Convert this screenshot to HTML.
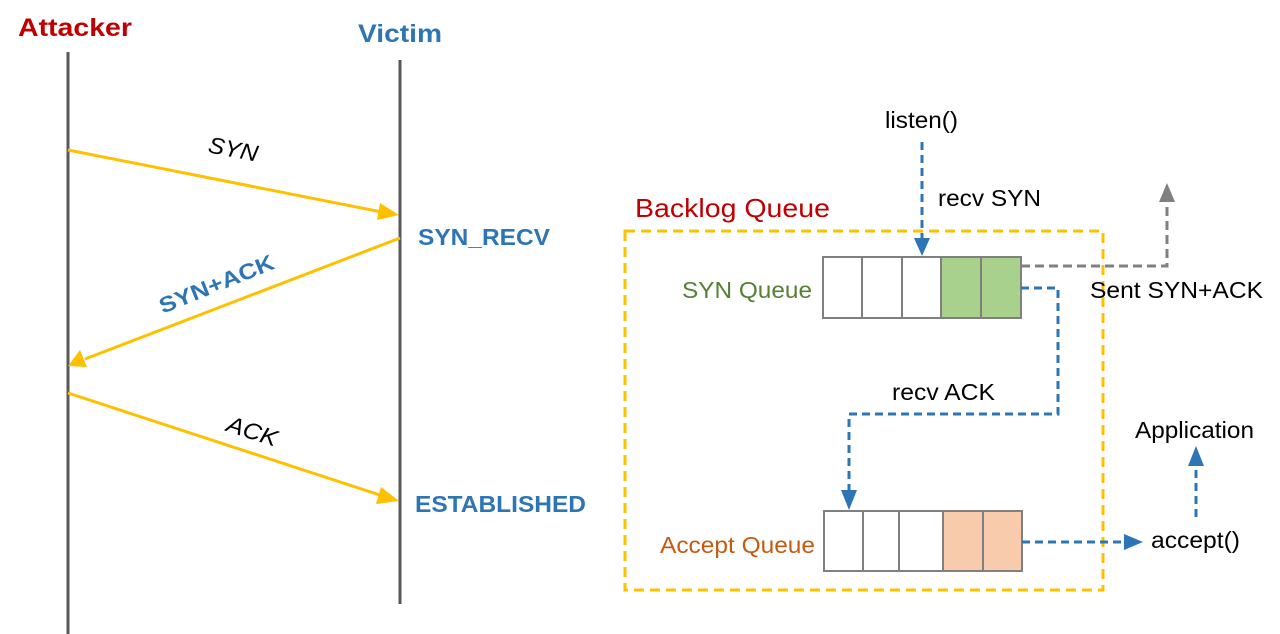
<!DOCTYPE html>
<html><head><meta charset="utf-8"><style>html,body{margin:0;padding:0;background:#fff}svg{display:block}text{font-family:"Liberation Sans",Arial,sans-serif}</style></head>
<body>
<svg width="1280" height="634" viewBox="0 0 1280 634" xmlns="http://www.w3.org/2000/svg">
<text x="18" y="36" font-size="25" font-weight="bold" fill="#C00000" textLength="114" lengthAdjust="spacingAndGlyphs">Attacker</text>
<text x="358" y="42" font-size="25" font-weight="bold" fill="#2E75B6" textLength="84" lengthAdjust="spacingAndGlyphs">Victim</text>
<line x1="68" y1="52" x2="68" y2="634" stroke="#595959" stroke-width="3"/>
<line x1="400" y1="60" x2="400" y2="604" stroke="#595959" stroke-width="3"/>
<line x1="68" y1="150" x2="382" y2="212" stroke="#FFC000" stroke-width="3"/>
<path d="M399,215 L380,203 L377,220 z" fill="#FFC000"/>
<text x="208" y="157" font-size="23" font-style="italic" transform="rotate(11 233 150)" textLength="50" lengthAdjust="spacingAndGlyphs">SYN</text>
<line x1="400" y1="238" x2="85" y2="359" stroke="#FFC000" stroke-width="3"/>
<path d="M68,366 L80,350 L87,367 z" fill="#FFC000"/>
<text x="155" y="292" font-size="22" font-weight="bold" fill="#2E75B6" transform="rotate(-22 215 283)" textLength="122" lengthAdjust="spacingAndGlyphs">SYN+ACK</text>
<text x="418" y="245" font-size="23" font-weight="bold" fill="#2E75B6" textLength="132" lengthAdjust="spacingAndGlyphs">SYN_RECV</text>
<line x1="68" y1="393" x2="383" y2="496" stroke="#FFC000" stroke-width="3"/>
<path d="M399,501 L381,487 L376,504 z" fill="#FFC000"/>
<text x="226" y="439" font-size="23" font-style="italic" transform="rotate(18 252 432)" textLength="52" lengthAdjust="spacingAndGlyphs">ACK</text>
<text x="415" y="512" font-size="23" font-weight="bold" fill="#2E75B6" textLength="171" lengthAdjust="spacingAndGlyphs">ESTABLISHED</text>

<text x="635" y="217" font-size="26" fill="#C00000" textLength="195" lengthAdjust="spacingAndGlyphs">Backlog Queue</text>
<rect x="625" y="231" width="478" height="359" fill="none" stroke="#FFC000" stroke-width="3" stroke-dasharray="10,6"/>
<text x="682" y="298" font-size="23" fill="#548235" textLength="130" lengthAdjust="spacingAndGlyphs">SYN Queue</text>
<text x="660" y="553" font-size="23" fill="#C55A11" textLength="155" lengthAdjust="spacingAndGlyphs">Accept Queue</text>
<rect x="941" y="257" width="80" height="61" fill="#A9D18E"/>
<rect x="823" y="257" width="198" height="61" fill="none" stroke="#808080" stroke-width="2"/>
<g stroke="#808080" stroke-width="2"><line x1="862" y1="257" x2="862" y2="318"/><line x1="902" y1="257" x2="902" y2="318"/><line x1="941" y1="257" x2="941" y2="318"/><line x1="981" y1="257" x2="981" y2="318"/></g>
<rect x="943" y="511" width="79" height="60" fill="#F8CBAD"/>
<rect x="824" y="511" width="198" height="60" fill="none" stroke="#808080" stroke-width="2"/>
<g stroke="#808080" stroke-width="2"><line x1="863" y1="511" x2="863" y2="571"/><line x1="899" y1="511" x2="899" y2="571"/><line x1="943" y1="511" x2="943" y2="571"/><line x1="983" y1="511" x2="983" y2="571"/></g>

<text x="885" y="128" font-size="23" textLength="73" lengthAdjust="spacingAndGlyphs">listen()</text>
<line x1="922" y1="142" x2="922" y2="240" stroke="#2E75B6" stroke-width="3" stroke-dasharray="8,5"/>
<path d="M914,238 L930,238 L922,256 z" fill="#2E75B6"/>
<text x="938" y="206" font-size="23" textLength="103" lengthAdjust="spacingAndGlyphs">recv SYN</text>

<polyline points="1021,266 1167,266 1167,200" fill="none" stroke="#808080" stroke-width="3" stroke-dasharray="9,5"/>
<path d="M1159,202 L1175,202 L1167,183 z" fill="#808080"/>
<text x="1090" y="298" font-size="23" textLength="173" lengthAdjust="spacingAndGlyphs">Sent SYN+ACK</text>

<polyline points="1021,288 1058,288 1058,414 849,414 849,492" fill="none" stroke="#2E75B6" stroke-width="3" stroke-dasharray="8,5"/>
<path d="M841,490 L857,490 L849,510 z" fill="#2E75B6"/>
<text x="892" y="400" font-size="23" textLength="103" lengthAdjust="spacingAndGlyphs">recv ACK</text>

<line x1="1022" y1="542" x2="1124" y2="542" stroke="#2E75B6" stroke-width="3" stroke-dasharray="8,5"/>
<path d="M1124,534 L1143,542 L1124,550 z" fill="#2E75B6"/>
<text x="1151" y="548" font-size="23" textLength="89" lengthAdjust="spacingAndGlyphs">accept()</text>
<line x1="1196" y1="517" x2="1196" y2="464" stroke="#2E75B6" stroke-width="3" stroke-dasharray="8,5"/>
<path d="M1188,466 L1204,466 L1196,446 z" fill="#2E75B6"/>
<text x="1135" y="438" font-size="23" textLength="119" lengthAdjust="spacingAndGlyphs">Application</text>
</svg>
</body></html>
